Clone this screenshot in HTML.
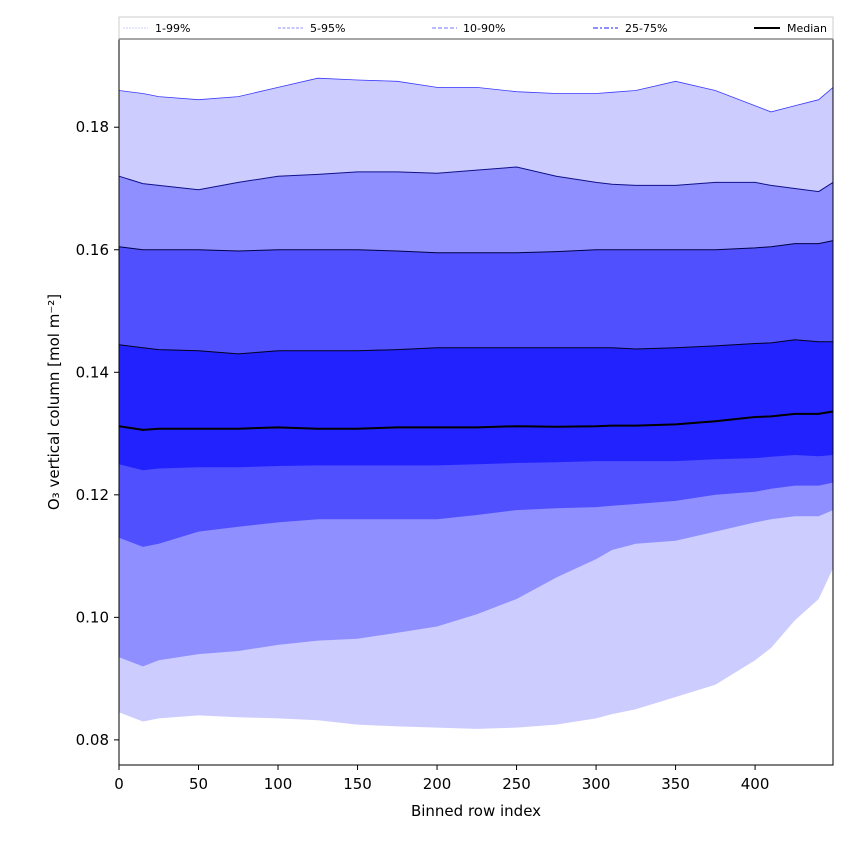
<!DOCTYPE html>
<html><head><meta charset="utf-8"><style>
body{margin:0;background:#fff;}
text{font-family:"DejaVu Sans","Liberation Sans",sans-serif;}
</style></head><body>
<svg id="chart" width="850" height="850" xmlns="http://www.w3.org/2000/svg">
<rect width="850" height="850" fill="#fff"/>
<g id="bands"></g>
<g id="lines"></g>
<rect x="119" y="39" width="714" height="726" fill="none" stroke="#000" stroke-width="1"/>
<g id="xticks"></g>
<g id="yticks"></g>
<text x="476" y="816" font-size="15" text-anchor="middle">Binned row index</text>
<text transform="translate(59,402) rotate(-90)" font-size="15" text-anchor="middle">O₃ vertical column [mol m⁻²]</text>
<g>
<rect x="119" y="17" width="714" height="22" fill="#fff" stroke="#ccc" stroke-width="1"/>
<line x1="119" y1="39" x2="833" y2="39" stroke="#888" stroke-width="1.5"/>
<g><line x1="123" y1="28" x2="148" y2="28" stroke="#ccccff" stroke-width="1" stroke-dasharray="2,1"/><text x="155" y="32" font-size="11">1-99%</text></g>
<g><line x1="278" y1="28" x2="303" y2="28" stroke="#8f8fff" stroke-width="1" stroke-dasharray="3,1.5"/><text x="310" y="32" font-size="11">5-95%</text></g>
<g><line x1="432" y1="28" x2="457" y2="28" stroke="#8f8fff" stroke-width="1.3" stroke-dasharray="4,2"/><text x="463" y="32" font-size="11">10-90%</text></g>
<g><line x1="593" y1="28" x2="618" y2="28" stroke="#6a6aff" stroke-width="1.6" stroke-dasharray="5,2,2,2"/><text x="625" y="32" font-size="11">25-75%</text></g>
<g><line x1="754" y1="28" x2="780" y2="28" stroke="#000" stroke-width="2"/><text x="787" y="32" font-size="11">Median</text></g>
</g>
</svg>
<script>
const xs   = [0,15,25,50,75,100,125,150,175,200,225,250,275,300,310,325,350,375,400,410,425,440,450];
const p99  = [0.186,0.1855,0.185,0.1845,0.185,0.1865,0.188,0.1877,0.1875,0.1865,0.1865,0.1858,0.1855,0.1855,0.1857,0.186,0.1875,0.186,0.1835,0.1825,0.1835,0.1845,0.1865];
const p95  = [0.172,0.1708,0.1705,0.1698,0.171,0.172,0.1723,0.1727,0.1727,0.1725,0.173,0.1735,0.172,0.171,0.1707,0.1705,0.1705,0.171,0.171,0.1705,0.170,0.1695,0.171];
const p90  = [0.1605,0.160,0.160,0.160,0.1598,0.160,0.160,0.160,0.1598,0.1595,0.1595,0.1595,0.1597,0.160,0.160,0.160,0.160,0.160,0.1603,0.1605,0.161,0.161,0.1615];
const p75  = [0.1445,0.144,0.1437,0.1435,0.143,0.1435,0.1435,0.1435,0.1437,0.144,0.144,0.144,0.144,0.144,0.144,0.1438,0.144,0.1443,0.1447,0.1448,0.1453,0.145,0.145];
const p50  = [0.1312,0.1306,0.1308,0.1308,0.1308,0.131,0.1308,0.1308,0.131,0.131,0.131,0.1312,0.1311,0.1312,0.1313,0.1313,0.1315,0.132,0.1327,0.1328,0.1332,0.1332,0.1336];
const p25  = [0.125,0.124,0.1243,0.1245,0.1245,0.1247,0.1248,0.1248,0.1248,0.1248,0.125,0.1252,0.1253,0.1255,0.1255,0.1255,0.1255,0.1258,0.126,0.1262,0.1265,0.1263,0.1265];
const p10  = [0.113,0.1115,0.112,0.114,0.1148,0.1155,0.116,0.116,0.116,0.116,0.1167,0.1175,0.1178,0.118,0.1182,0.1185,0.119,0.120,0.1205,0.121,0.1215,0.1215,0.122];
const p5   = [0.0935,0.092,0.093,0.094,0.0945,0.0955,0.0962,0.0965,0.0975,0.0985,0.1005,0.103,0.1065,0.1095,0.111,0.112,0.1125,0.114,0.1155,0.116,0.1165,0.1165,0.1175];
const p1   = [0.0845,0.083,0.0835,0.084,0.0837,0.0835,0.0832,0.0825,0.0822,0.082,0.0818,0.082,0.0825,0.0835,0.0842,0.085,0.087,0.089,0.093,0.095,0.0995,0.103,0.108];
const xTicks = [0,50,100,150,200,250,300,350,400];
const yTicks = [0.08,0.10,0.12,0.14,0.16,0.18];

const X0=119,X1=833,Y0=765,Y1=39,XMIN=0,XMAX=449,YMIN=0.0759,YMAX=0.1944;
const sx=v=>X0+(v-XMIN)/(XMAX-XMIN)*(X1-X0);
const sy=v=>Y0-(v-YMIN)/(YMAX-YMIN)*(Y0-Y1);
const NS='http://www.w3.org/2000/svg';
const bands=document.getElementById('bands'),lines=document.getElementById('lines');
const pts=a=>a.map((v,i)=>sx(Math.min(xs[i],XMAX)).toFixed(1)+','+sy(v).toFixed(1));
function band(lo,hi,color,name){
  const p=document.createElementNS(NS,'polygon');
  p.setAttribute('points',pts(hi).concat(pts(lo).reverse()).join(' '));
  p.setAttribute('fill',color);
  
  
  bands.appendChild(p);
}
band(p1,p99,'#ccccff','band-1-99');
band(p5,p95,'#8f8fff','band-5-95');
band(p10,p90,'#5050ff','band-10-90');
band(p25,p75,'#2222ff','band-25-75');
function line(a,color,w,name){
  const p=document.createElementNS(NS,'polyline');
  p.setAttribute('points',pts(a).join(' '));
  p.setAttribute('fill','none');p.setAttribute('stroke',color);p.setAttribute('stroke-width',w);
  
  
  lines.appendChild(p);
}
line(p99,'#3a3aff',0.8,'line-p99');
line(p95,'#10108a',1,'line-p95');
line(p90,'#000044',1,'line-p90');
line(p75,'#000022',1,'line-p75');
line(p50,'#000',2,'median-line');
const xg=document.getElementById('xticks'),yg=document.getElementById('yticks');
xTicks.forEach(v=>{
  const x=sx(v);
  const l=document.createElementNS(NS,'line');
  l.setAttribute('x1',x);l.setAttribute('x2',x);l.setAttribute('y1',765);l.setAttribute('y2',770);l.setAttribute('stroke','#000');
  
  
  xg.appendChild(l);
  const t=document.createElementNS(NS,'text');
  t.setAttribute('x',x);t.setAttribute('y',789);t.setAttribute('font-size','15');t.setAttribute('text-anchor','middle');
  t.textContent=v;
  
  
  xg.appendChild(t);
});
yTicks.forEach(v=>{
  const y=sy(v);
  const l=document.createElementNS(NS,'line');
  l.setAttribute('x1',114);l.setAttribute('x2',119);l.setAttribute('y1',y);l.setAttribute('y2',y);l.setAttribute('stroke','#000');
  
  
  yg.appendChild(l);
  const t=document.createElementNS(NS,'text');
  t.setAttribute('x',109);t.setAttribute('y',y+5);t.setAttribute('font-size','15');t.setAttribute('text-anchor','end');
  t.textContent=v.toFixed(2);
  
  
  yg.appendChild(t);
});
</script>
</body></html>
